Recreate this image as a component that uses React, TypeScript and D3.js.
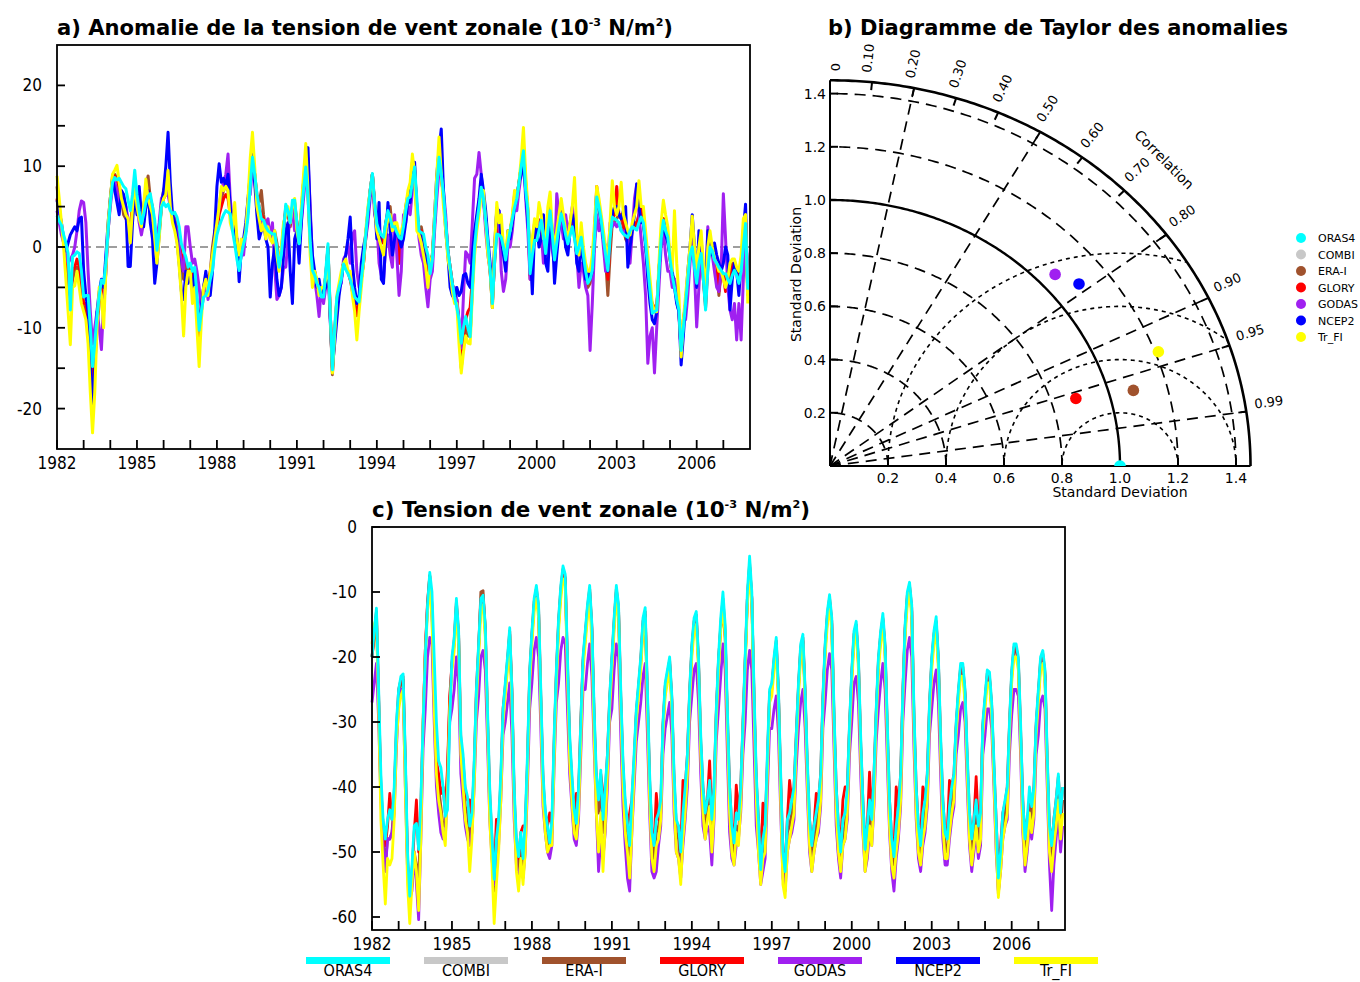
import React from "react";
import * as d3 from "d3";

// ---------------- data ----------------
const SERIES_NAMES = ["ORAS4", "COMBI", "ERA-I", "GLORY", "GODAS", "NCEP2", "Tr_FI"];
const SERIES_COLORS = ["#00ffff", "#c8c8c8", "#a0522d", "#ff0000", "#a020f0", "#0000ff", "#ffff00"];
const FIRST_YEAR = 1982;
const LAST_YEAR = 2008;
const YEAR_LABELS = [1982, 1985, 1988, 1991, 1994, 1997, 2000, 2003, 2006];
const YEAR_TICKS = d3.range(1982, 2008);
const ANOM_LABELS = [-20, -10, 0, 10, 20];
const ANOM_TICKS = [-20, -15, -10, -5, 0, 5, 10, 15, 20];
const TOTAL_LABELS = [0, -10, -20, -30, -40, -50, -60];

// panel a : monthly anomalies Jan 1982 - Dec 2007
const anomORAS4 = [
  3.9, 3.2, 2.7, 1.5, 0.5, -0.8, -7.8, -1.2, -1.0, -0.6, -0.8, -3.0,
  -6.2, -6.0, -6.0, -9.9, -14.8, -12.0, -8.6, -6.0, -4.1, -4.5, -2.0, 2.0,
  5.5, 8.0, 8.6, 8.3, 8.5, 8.0, 7.5, 7.2, 5.8, 4.5, 6.5, 9.5,
  6.5, 4.5, 2.9, 4.0, 5.5, 6.2, 6.6, 5.0, 3.3, -0.4, 2.0, 4.9,
  5.5, 5.0, 5.3, 4.5, 4.1, 4.3, 3.7, 2.5, 0.4, -0.5, -1.2, -2.5,
  -2.0, -3.0, -2.5, -6.0, -10.3, -8.0, -6.2, -6.0, -5.3, -4.0, -2.9, -0.4,
  1.5, 2.5, 3.3, 4.0, 4.5, 4.3, 4.1, 2.0, 0.4, -1.5, -2.9, -1.0,
  0.4, 1.5, 3.7, 7.5, 11.1, 9.0, 6.6, 5.0, 3.5, 3.3, 2.5, 2.0,
  1.8, 1.6, 1.6, 0.0, -2.5, -1.0, 2.0, 5.3, 4.5, 3.0, 5.8, 5.8,
  3.0, 0.4, 4.0, 7.0, 9.9, 6.0, 0.5, -2.9, -3.5, -4.5, -5.0, -6.2,
  -6.2, -3.0, 0.4, -8.0, -15.2, -10.0, -6.2, -5.0, -4.0, -2.1, -2.8, -3.3,
  -4.0, -5.0, -6.2, -6.5, -6.8, -4.0, -1.6, 1.5, 4.5, 7.0, 9.1, 5.5,
  2.9, 2.0, 1.5, 1.2, 3.0, 4.5, 3.5, 2.5, 2.5, 1.8, 1.2, 1.0,
  2.5, 4.5, 6.0, 6.2, 8.0, 9.9, 6.0, 2.0, 1.8, 1.6, 0.0, -1.0,
  -3.3, -1.6, 3.0, 7.5, 11.1, 9.0, 6.6, 3.0, -0.4, -2.5, -4.5, -6.2,
  -7.5, -9.0, -11.9, -10.0, -8.6, -10.0, -11.1, -5.0, 0.0, 2.9, 5.0, 7.4,
  6.0, 3.3, 0.5, -2.9, -7.0, -2.0, 1.6, 1.5, 1.2, 0.0, -1.6, 0.5,
  2.0, 3.5, 4.9, 6.0, 8.0, 10.0, 11.9, 7.0, 4.5, -3.3, -1.0, 0.8,
  0.8, 2.0, 3.3, 1.5, -0.8, 2.0, 4.5, 1.5, -1.6, 0.5, 2.5, 4.1,
  3.0, 1.5, 0.4, 1.5, 2.5, 1.0, -0.8, 0.0, 1.2, -1.0, -3.0, -4.5,
  -4.0, -2.9, 1.0, 6.2, 5.0, 3.3, 1.0, -1.0, -2.9, 1.0, 3.7, 3.5,
  3.3, 3.0, 2.0, 1.6, 1.4, 1.2, 2.0, 2.5, 2.3, 2.1, 3.0, 3.7,
  3.0, 0.5, -2.5, -5.5, -8.2, -8.0, -7.8, -3.0, 1.0, 3.3, 2.0, 1.2,
  -1.5, -3.5, -5.0, -6.5, -7.8, -12.8, -10.0, -7.0, -4.0, -1.0, 0.0, -2.5,
  -4.5, -2.0, -0.8, -4.0, -7.8, -3.0, 0.0, -0.5, -1.6, -2.0, -2.5, -2.9,
  -3.3, -3.3, -4.0, -4.5, -3.5, -2.9, -3.5, -4.5, -3.0, 0.0, 2.9, -5.3,
];
const anomCOMBI: number[] = [];
const anomERAI = [
  7.5, 5.0, 2.5, 0.5, -2.0, -5.0, -6.0, -4.0, -3.0, -2.5, -3.5, -5.0,
  -7.5, -8.0, -10.0, -14.0, -20.0, -15.0, -10.0, -7.0, -5.0, -8.0, -3.0, 2.5,
  6.0, 8.8, 9.0, 8.5, 7.0, 6.0, 4.0, 3.5, 3.0, 1.0, 5.0, 8.0,
  6.0, 4.0, 3.0, 5.0, 7.0, 8.8, 6.0, 5.0, 2.0, -1.0, 2.0, 5.5,
  7.0, 8.0, 9.0, 5.5, 4.0, 3.5, 2.0, 0.0, -2.0, -4.0, -2.0, -3.0,
  -2.5, -5.0, -4.0, -8.0, -12.0, -7.0, -5.0, -3.5, -4.0, -3.0, 0.0, 2.0,
  2.5, 4.5, 6.0, 7.0, 7.5, 7.0, 4.0, 3.0, 3.0, 0.5, -1.5, 0.0,
  0.5, 2.0, 5.0, 9.0, 11.5, 9.0, 6.0, 5.5, 7.0, 4.0, 2.0, 2.0,
  2.0, 1.5, 2.0, 0.5, -2.0, -0.5, 2.5, 4.5, 4.0, 2.5, 4.5, 5.0,
  3.0, 0.5, 4.5, 8.0, 11.0, 7.0, 1.0, -3.0, -3.0, -4.5, -5.0, -5.5,
  -6.0, -3.5, 0.0, -8.5, -15.8, -11.0, -6.5, -5.0, -3.5, -2.0, -2.5, -3.0,
  -4.0, -5.5, -7.0, -8.0, -7.0, -4.0, -2.0, 1.0, 4.0, 6.5, 9.0, 5.0,
  2.5, 1.5, 1.0, 0.5, 3.0, 4.5, 5.0, 2.0, 3.0, 2.5, -2.0, 1.5,
  2.5, 5.0, 6.5, 7.0, 10.5, 10.0, 4.0, 2.0, 2.5, 1.0, -1.0, -3.5,
  -2.0, -1.0, 3.0, 8.0, 12.0, 9.0, 6.0, 3.0, -0.5, -2.5, -4.5, -6.5,
  -6.5, -10.0, -15.0, -12.0, -10.0, -11.0, -11.0, -5.0, 0.5, 3.0, 5.0, 7.0,
  6.0, 3.0, 0.0, -3.0, -7.5, -1.5, 3.0, 2.0, 2.0, -0.5, -1.5, 1.0,
  2.0, 3.5, 6.5, 6.0, 8.0, 10.0, 12.5, 8.0, 4.0, -4.0, -1.0, 1.5,
  1.5, 3.0, 3.5, 2.0, -0.5, 2.5, 5.0, 2.0, -1.0, 1.0, 3.0, 4.5,
  3.0, 1.5, 0.5, 2.0, 3.0, 2.0, -1.0, 0.0, 1.5, -1.0, -3.0, -5.0,
  -4.5, -3.0, 1.0, 6.5, 5.0, 3.0, 1.0, -1.5, -6.0, -1.0, 3.0, 3.0,
  3.5, 4.0, 3.5, 2.5, 1.0, 0.5, 1.5, 2.5, 3.0, 3.0, 4.0, 4.0,
  3.0, 0.5, -3.0, -6.0, -7.5, -8.0, -8.0, -3.0, 1.0, 3.5, 2.0, 1.0,
  -1.5, -3.5, -4.0, -6.5, -8.0, -13.0, -9.0, -7.0, -4.0, -1.0, 0.5, -2.0,
  -4.5, -2.0, 0.0, -4.0, -7.0, -2.0, 0.0, -1.0, -1.5, -2.0, -6.0, -3.0,
  -3.5, -4.0, -4.0, -4.0, -2.0, -2.0, -3.0, -4.0, -2.0, 1.0, 3.5, -6.0,
];
const anomGLORY = [
  6.0, 4.0, 2.0, 1.0, -1.0, -3.0, -6.5, -3.0, -2.5, -1.5, -2.5, -4.5,
  -7.0, -7.0, -9.0, -12.0, -17.0, -13.0, -9.0, -6.0, -5.0, -6.0, -2.0, 2.0,
  5.5, 8.3, 8.8, 8.4, 7.5, 6.5, 5.5, 4.5, 3.0, 2.0, 5.5, 8.5,
  5.5, 4.0, 3.0, 4.5, 6.0, 7.0, 6.0, 4.5, 2.5, -0.5, 2.0, 5.0,
  6.0, 6.5, 7.5, 5.0, 4.0, 3.5, 2.5, 1.0, -1.0, -2.5, -1.5, -2.5,
  -2.5, -4.0, -3.0, -7.0, -11.0, -7.5, -5.5, -4.0, -4.5, -3.5, -1.5, 0.5,
  2.0, 4.0, 5.0, 6.0, 6.5, 6.0, 4.0, 2.5, 2.0, 0.0, -2.0, -0.5,
  0.5, 2.0, 4.5, 8.5, 11.5, 9.0, 6.5, 5.0, 4.0, 3.5, 2.0, 2.0,
  1.5, 1.5, 1.5, 0.0, -2.0, -1.0, 2.0, 5.0, 4.0, 3.0, 5.0, 5.5,
  3.0, 0.5, 4.0, 7.5, 10.5, 6.5, 0.5, -3.0, -3.5, -4.5, -5.0, -6.0,
  -6.0, -3.5, 0.0, -8.0, -15.5, -10.5, -6.5, -5.0, -4.0, -2.0, -2.5, -3.0,
  -4.0, -5.0, -7.0, -8.5, -7.0, -4.0, -2.0, 1.5, 4.5, 7.0, 9.0, 5.5,
  2.5, 1.5, 1.0, 0.5, 3.0, 4.0, 3.0, 2.0, 2.5, 2.0, -2.0, 1.0,
  2.5, 4.5, 6.0, 6.5, 9.0, 9.5, 5.0, 2.0, 2.0, 1.0, -1.0, -3.5,
  -2.5, -1.5, 3.0, 7.5, 11.5, 8.5, 6.5, 3.0, -0.5, -2.5, -4.5, -6.5,
  -6.5, -9.5, -13.0, -11.0, -9.0, -8.0, -7.5, -4.0, 1.0, 3.5, 5.5, 8.0,
  6.0, 3.5, 0.0, -3.0, -7.0, -2.0, 2.0, 2.0, 1.5, -0.5, -1.5, 0.5,
  2.0, 3.5, 5.5, 6.0, 8.0, 10.0, 12.0, 7.5, 4.5, -3.5, -1.0, 1.0,
  1.5, 2.5, 3.5, 1.5, -1.0, 2.0, 4.5, 1.5, -1.5, 1.0, 3.0, 4.5,
  3.0, 1.5, 0.5, 2.0, 3.0, 1.5, -1.0, 0.0, 1.0, -1.0, -3.0, -4.5,
  -4.0, -3.0, 1.0, 7.5, 5.0, 3.5, 1.0, -1.0, -4.0, 0.5, 3.5, 4.0,
  7.5, 4.0, 4.0, 3.0, 1.5, 1.0, 1.5, 2.5, 3.0, 2.5, 4.0, 5.0,
  3.5, 0.5, -3.0, -6.0, -7.0, -7.5, -7.5, -3.0, 1.0, 3.5, 2.0, 1.5,
  -1.5, -3.5, -4.5, -6.5, -8.0, -13.0, -9.5, -7.0, -4.0, -1.0, 0.5, -2.0,
  -4.5, -2.0, -0.5, -4.0, -7.5, -2.5, 0.0, -0.5, -1.5, -2.0, -5.5, -3.0,
  -3.5, -5.5, -4.0, -4.0, -2.5, -2.0, -3.0, -4.0, -2.0, 1.0, 3.0, -5.0,
];
const anomGODAS = [
  4.5, 3.0, 1.5, 0.5, -1.0, -2.0, -1.5, -1.0, 0.0, 2.0, 4.5, 5.7,
  5.5, 3.0, -3.0, -8.0, -12.0, -10.0, -8.0, -10.0, -12.7, -7.0, -3.0, 2.0,
  5.0, 7.5, 8.0, 7.0, 5.5, 5.0, 6.0, 5.0, 3.5, 2.0, 4.0, 6.0,
  5.0, 3.0, 1.5, 3.0, 5.0, 6.0, 4.0, 2.5, 1.5, 1.0, 3.0, 6.0,
  6.5, 7.0, 6.5, 5.0, 4.0, 3.0, 2.0, 0.0, -2.0, -3.0, 2.5, 2.5,
  0.0, -2.0, -1.5, -3.0, -5.0, -8.0, -6.0, -4.0, -6.5, -5.0, -2.0, 1.0,
  3.0, 5.0, 7.0, 8.0, 9.0, 11.5, 6.0, 3.0, 3.0, 1.0, -2.5, -1.0,
  -1.0, 2.0, 6.0, 6.5, 10.0, 8.0, 6.0, 4.0, 3.0, 2.0, 3.0, 3.5,
  1.0, 3.0, -2.5, -6.5, -6.0, -5.0, -2.5, -2.5, 1.0, 4.0, 4.5, 2.0,
  2.5, 0.0, 3.0, 6.0, 9.0, 11.0, 5.0, -2.0, -4.0, -6.0, -8.6, -5.0,
  -7.0, -5.0, -2.0, -8.0, -14.8, -11.0, -7.0, -5.0, -4.5, -1.5, -1.0, 0.5,
  -2.0, 1.5, 2.0, -3.0, -5.0, -4.0, -1.0, 1.0, 3.0, 6.0, 8.5, 4.0,
  3.0, -2.0, -3.5, -4.0, 0.0, 1.5, -1.0, -2.5, 4.0, -1.0, -6.0, -3.0,
  4.0, 3.0, 5.0, 4.0, 7.0, 8.5, 5.0, 1.0, -1.0, -2.0, -5.0, -7.4,
  -4.0, -3.0, 2.0, 6.0, 9.5, 9.0, 7.0, 4.0, -1.0, -3.0, -6.0, -5.0,
  -6.5, -9.0, -12.5, -6.0, -0.6, -1.0, -2.0, 3.0, 8.5, 9.0, 11.7, 9.0,
  6.0, 2.0, -1.0, -3.0, -5.0, -1.0, 4.7, 4.5, -3.0, -5.5, -4.0, 0.0,
  0.0, 2.0, 5.0, 4.5, 7.0, 9.0, 10.5, 6.0, 2.0, -4.0, 0.5, 3.0,
  2.0, 3.0, 2.0, -2.0, -1.0, 3.0, 2.0, -0.5, -2.0, 6.6, 4.0, 3.0,
  1.0, 4.0, 2.0, 3.0, 5.0, 3.0, -1.0, -5.0, -2.0, -3.0, -5.0, -6.0,
  -12.8, -7.0, 0.0, 4.0, 2.0, 3.0, 0.0, -3.0, -2.0, 3.0, 2.5, 3.0,
  2.5, 3.0, 2.0, 2.0, 1.5, 1.0, -2.0, 2.0, 6.0, 7.8, 4.0, 1.0,
  -2.0, -6.0, -14.4, -11.0, -10.0, -15.6, -10.0, -5.0, 0.0, 2.0, -1.0, -3.0,
  -3.0, -5.0, -4.0, -6.0, -8.0, -13.0, -9.0, -9.0, -6.0, -2.0, 1.0, -3.0,
  -9.9, -5.0, 0.0, -3.0, -6.0, 2.5, 0.0, -1.0, -3.0, -5.0, -5.5, -3.0,
  6.6, 1.0, -5.0, -7.8, -9.0, -7.0, -11.5, -7.0, -11.5, -4.0, 2.0, -4.0,
];
const anomNCEP2 = [
  5.8, 4.5, 3.0, 1.0, -0.5, 0.5, 1.5, 2.0, 2.5, 2.0, 3.5, 3.7,
  -3.0, -6.0, -8.0, -14.0, -20.0, -15.0, -8.0, -5.5, -4.0, -5.0, -1.0, 3.0,
  6.0, 8.5, 7.0, 5.5, 4.0, 7.0, 6.5, 5.0, -2.4, -2.4, 3.0, 7.0,
  4.0, 7.5, 4.0, 2.5, 5.0, 7.0, 3.0, 1.0, -4.5, -2.0, 1.5, 5.0,
  7.0, 10.0, 14.2, 8.0, 4.0, 3.0, 1.0, -2.0, -5.5, -6.5, -3.0, -4.5,
  -3.5, -5.0, -3.0, -7.0, -9.5, -7.5, -5.0, -3.0, -5.5, -6.0, -3.0, 2.0,
  7.5, 10.3, 8.0, 8.5, 7.5, 9.0, 5.0, 3.0, 1.5, 1.0, -4.3, 0.0,
  1.0, 3.0, 6.0, 9.0, 11.5, 8.0, 4.0, 1.0, 2.0, 3.0, 1.0, 0.0,
  -6.2, -2.0, 0.0, -4.0, -6.0, -5.0, -1.0, 2.0, 3.0, -3.0, -7.0, 1.0,
  2.0, -2.0, 3.0, 8.0, 10.0, 12.3, 4.0, -1.0, -3.0, -5.0, -4.0, -6.0,
  -5.5, -5.0, -2.0, -9.0, -15.0, -12.0, -9.0, -6.0, -4.0, -2.0, -1.0, 1.0,
  3.7, -2.0, -5.0, -7.0, -6.0, -2.0, 0.0, 1.5, 4.0, 7.0, 9.0, 5.0,
  1.0, 5.5, -4.0, -4.5, 1.0, 5.5, 2.0, -1.0, 1.0, 2.5, 1.0, 0.0,
  1.0, 3.0, 6.0, 5.5, 9.0, 10.5, 4.0, 2.0, 1.0, -0.5, -1.5, -2.0,
  -2.0, -1.0, 4.0, 9.0, 12.0, 14.6, 7.0, 2.0, -1.0, -5.0, -6.0, -6.5,
  -5.0, -6.0, -5.5, -3.5, -3.3, -4.5, -5.0, -1.0, 2.0, 4.0, 6.0, 9.0,
  7.0, 4.5, 1.0, -2.0, -5.0, 0.0, 4.8, 4.5, 1.0, -1.0, -3.0, 2.0,
  1.0, 3.0, 5.0, 6.0, 8.0, 9.0, 10.5, 7.0, 3.0, 0.0, -5.8, 2.0,
  2.5, 0.0, 1.0, 4.0, -2.0, -3.0, 3.0, 2.0, -4.5, -1.0, 2.0, 5.0,
  3.0, 0.0, -1.0, 2.0, 4.0, 3.0, -2.0, -3.0, 1.0, -2.0, -4.0, -3.0,
  -4.0, -3.0, 2.0, 7.0, 5.0, 3.0, 1.0, 0.0, -3.0, 2.0, 4.0, 5.0,
  5.0, 4.0, 3.5, 4.5, 5.0, -2.5, 0.0, 2.0, 4.0, 7.8, 5.0, 3.0,
  3.0, 0.0, -4.0, -7.0, -9.0, -9.5, -8.0, -3.0, 1.0, 3.0, 1.5, 0.5,
  -1.0, -3.0, -5.0, -7.0, -8.0, -14.6, -11.0, -7.0, -3.0, 0.0, 4.0, 0.0,
  -5.0, 2.0, 1.0, -3.0, -6.0, 2.0, 0.0, -1.0, 0.5, -1.0, -2.0, -3.0,
  -2.0, 0.0, -1.0, -7.8, -4.0, -2.0, -3.0, -6.0, -2.0, 2.0, 5.3, -6.0,
];
const anomTrFI = [
  8.8, 6.0, 3.0, 0.0, -4.0, -8.0, -12.1, -5.0, -4.8, -3.0, -5.0, -7.0,
  -8.0, -9.0, -12.0, -18.0, -23.0, -18.0, -10.0, -5.0, -6.0, -10.0, -3.0, 3.0,
  6.0, 9.0, 9.5, 10.1, 8.0, 6.0, 5.0, 4.0, 3.5, 0.5, 5.0, 8.0,
  5.0, 3.5, 2.5, 5.0, 8.4, 6.0, 5.0, 4.0, 1.0, -2.0, 1.0, 5.0,
  6.0, 6.5, 9.5, 5.0, 3.0, 2.0, 0.5, -2.5, -6.0, -11.0, -5.0, -3.0,
  -3.0, -7.0, -5.0, -10.0, -14.8, -9.0, -5.0, -4.0, -6.0, -3.0, -1.0, 1.0,
  3.0, 5.0, 7.5, 7.0, 7.5, 7.0, 3.0, 2.0, 5.5, 1.0, -1.0, 1.0,
  0.5, 2.0, 6.0, 11.0, 14.2, 10.0, 5.0, 3.5, 2.0, 3.0, 1.0, 2.5,
  1.0, 0.5, 2.0, -1.0, -3.0, 0.0, 3.0, 4.0, 5.0, 3.0, 5.0, 6.0,
  2.0, 0.5, 5.0, 9.0, 12.8, 7.0, -1.0, -5.0, -3.0, -4.0, -6.0, -5.0,
  -5.0, -4.0, -1.0, -8.0, -15.6, -11.0, -6.0, -4.5, -3.0, -2.0, -1.5, -3.0,
  -3.0, -6.0, -8.0, -11.5, -8.0, -5.0, -2.0, 2.0, 5.0, 7.0, 9.0, 5.0,
  2.0, 1.0, 0.0, -1.0, 2.0, 3.5, 4.0, 2.0, 3.0, 3.0, 1.5, 2.0,
  3.0, 5.0, 7.0, 8.0, 11.5, 9.0, 2.0, 1.5, 0.5, -1.0, -2.5, -5.0,
  -2.0, -1.0, 4.0, 9.0, 13.6, 9.0, 5.0, 2.0, -1.5, -3.0, -5.5, -7.0,
  -7.0, -12.0, -15.6, -13.0, -11.0, -11.9, -12.0, -6.0, -1.0, 2.0, 4.0, 6.5,
  7.0, 3.0, -1.0, -3.0, -7.5, 0.0, 5.5, 3.0, 4.0, 0.0, -1.0, 2.0,
  2.0, 4.0, 7.0, 6.0, 8.0, 11.0, 14.8, 9.0, 5.0, -1.0, 1.0, 3.5,
  2.5, 5.5, 4.0, 1.0, 1.0, 5.0, 6.8, 2.0, 0.0, 2.0, 4.0, 6.0,
  4.0, 2.0, 1.0, 3.0, 5.0, 8.6, 2.0, -1.0, 3.0, 0.0, -2.0, -3.0,
  -3.0, -1.0, 3.0, 7.5, 6.0, 4.0, 2.0, 0.0, -2.0, 3.0, 8.2, 5.0,
  4.0, 5.0, 8.0, 4.0, 3.0, 2.0, 1.5, 3.0, 4.0, 5.0, 8.2, 5.0,
  5.0, 2.0, -1.0, -4.0, -7.0, -8.0, -8.0, -2.0, 3.0, 5.8, 4.0, 2.5,
  -1.0, -3.0, 4.5, -2.0, -6.0, -13.6, -9.0, -6.0, -3.0, 0.0, 3.8, 0.0,
  -3.0, 0.0, 2.0, -2.0, -6.0, 0.0, 2.0, 0.0, -1.5, -2.0, -3.0, -3.0,
  -4.0, -5.0, -4.0, -2.0, -1.5, -1.5, -2.5, -3.0, -1.0, 3.5, 4.0, -7.0,
];

// panel c : monthly totals Jan 1982 - Dec 2007
const totORAS4 = [
  -20, -16, -12.5, -25, -38, -45, -48, -45, -43.5, -45, -40, -30,
  -25, -23, -22.6, -35, -50, -56.8, -52, -46, -45.6, -49.6, -42, -30,
  -20, -12, -7, -10, -20, -30, -36, -37, -40, -44.5, -43.5, -30,
  -20, -17, -11, -16, -32, -35, -40, -41.5, -46, -44, -36, -25,
  -18, -11, -10.5, -15, -28, -40, -47.6, -54.2, -48, -45, -38, -28,
  -24, -20, -15.5, -25, -40, -48, -50.7, -47, -51, -45, -35, -22,
  -16, -11, -9, -12, -25, -38, -43.5, -46, -48.6, -45, -32, -22,
  -14, -9, -6, -7.3, -20, -32, -38, -43.5, -45.6, -40, -30, -20,
  -16, -12, -9, -15, -28, -38, -42, -37.4, -45, -40, -35, -26,
  -20, -14, -9, -12, -25, -36, -42, -45.6, -49, -41.5, -35, -28,
  -24, -20, -14, -12.4, -25, -38, -47, -49, -45, -44, -42, -30,
  -24, -22, -20, -26, -38, -45, -46, -50, -44, -40, -35, -25,
  -18, -14, -13, -20, -32, -40, -44, -42, -39, -45, -40, -28,
  -20, -14, -10, -15, -28, -40, -46, -48.6, -44, -45, -40, -30,
  -20, -10, -4.5, -10, -25, -38, -45, -52.7, -48, -46, -35, -25,
  -24, -20, -17, -25, -38, -50, -53, -45, -44, -42, -40, -32,
  -24, -18, -16.5, -25, -36, -45, -49, -46, -44, -42, -38, -26,
  -18, -13, -10.4, -14, -28, -40, -46, -50, -45, -44, -40, -30,
  -22, -16, -14.5, -20, -32, -42, -49.6, -46, -42, -45, -38, -28,
  -20, -16, -13.3, -18, -30, -42, -48, -50.7, -46, -43, -38, -25,
  -15, -10, -8.5, -12, -28, -40, -46, -49, -44, -42, -38, -27,
  -20, -16, -13.8, -20, -32, -42, -47, -48, -43, -40, -38, -30,
  -25, -21, -21, -25, -35, -44, -48, -45, -42, -46, -44, -30,
  -26, -22, -22.3, -27, -36, -45, -54, -50, -44, -42, -40, -30,
  -22, -18, -18, -20, -30, -42, -48, -45, -40, -43, -40, -30,
  -25, -20, -19, -22, -35, -46, -49, -45, -42, -38, -44, -40,
];
const totCOMBI: number[] = [];
const totERAI = [
  -20, -17, -14, -27, -41, -48, -52, -48, -48, -47, -42, -32,
  -26, -24, -23.5, -37, -52, -58, -55, -50, -52, -54, -45, -31,
  -19, -12, -7.5, -13, -27, -37, -40, -43, -46, -46, -38, -27,
  -21, -18, -12, -17, -34, -38, -43, -44, -48, -46, -38, -26,
  -19, -10, -9.8, -16, -30, -43, -50, -56, -51, -47, -40, -29,
  -25, -21, -16.5, -26, -42, -50, -54, -48, -53, -47, -37, -23,
  -17, -12, -10, -13, -27, -40, -46, -48, -50, -47, -34, -23,
  -15, -10, -7, -8, -22, -34, -40, -45, -47, -42, -31, -21,
  -17, -13, -10, -16, -30, -40, -44, -40, -47, -43, -36, -27,
  -21, -15, -10, -13, -27, -38, -44, -47, -51, -44, -37, -29,
  -25, -21, -15, -13.5, -27, -40, -49, -51, -47, -46, -44, -31,
  -25, -23, -21, -27, -40, -47, -48, -52, -46, -42, -36, -26,
  -19, -15, -14, -21, -34, -42, -46, -44, -41, -47, -42, -29,
  -21, -15, -11, -16, -30, -42, -48, -50, -46, -47, -42, -31,
  -21, -11, -5.5, -11, -27, -40, -47, -54, -50, -48, -37, -26,
  -25, -21, -18, -26, -40, -52, -55, -47, -46, -44, -42, -33,
  -25, -19, -17.5, -26, -38, -47, -51, -48, -46, -44, -40, -27,
  -19, -14, -11.4, -15, -30, -42, -50.5, -52, -47, -46, -42, -31,
  -23, -17, -15.5, -21, -34, -44, -51, -48, -44, -47, -40, -29,
  -21, -17, -14.3, -19, -32, -44, -50, -52, -48, -45, -40, -26,
  -16, -11, -9.5, -13, -30, -42, -48, -52, -46, -44, -40, -28,
  -21, -17, -14.8, -21, -34, -44, -49, -50, -45, -42, -40, -31,
  -26, -22, -22, -26, -37, -46, -50, -47, -44, -48, -46, -31,
  -27, -23, -23.3, -28, -38, -47, -56.5, -52, -46, -44, -42, -31,
  -23, -19, -19, -21, -32, -44, -50, -47, -42, -45, -42, -31,
  -26, -21, -20, -23, -37, -48, -51, -47, -44, -40, -46, -42,
];
const totGLORY = [
  -20, -16.5, -13, -26, -40, -46, -49, -46, -41, -45, -41, -31,
  -25, -23.5, -23, -36, -51, -57, -53, -47, -42, -50, -43, -30,
  -19, -11.5, -7.5, -12, -26, -36, -38, -41, -40, -44, -37, -26,
  -21, -17.5, -11.5, -16.5, -33, -36, -41, -42, -42, -45, -37, -25,
  -18.5, -11, -10.5, -15.5, -29, -41, -48, -54, -45, -46, -39, -28,
  -24.5, -20.5, -16, -25, -41, -49, -51, -47, -46, -46, -36, -22.5,
  -16.5, -11.5, -9.5, -12.5, -26, -39, -44, -46, -44, -46, -33, -22.5,
  -14.5, -9.5, -6.5, -7.8, -21, -33, -39, -44, -41, -41, -30, -20.5,
  -16.5, -12.5, -9.5, -15.5, -29, -39, -42, -38, -41, -41, -35, -26.5,
  -20.5, -14.5, -9.5, -12.5, -26, -37, -43, -46, -44, -42, -36, -28.5,
  -24.5, -20.5, -14.5, -13, -26, -39, -47, -49, -41, -45, -43, -30.5,
  -24.5, -22.5, -20.5, -26.5, -39, -46, -46, -50, -39, -40, -35, -25.5,
  -18.5, -14.5, -13.5, -20.5, -33, -40, -44, -42, -36, -45, -40, -28.5,
  -20.5, -15.5, -13, -17, -29, -40, -46, -48, -39.7, -44, -40, -30.5,
  -20.5, -11, -6, -11, -26, -39, -45, -52, -42.5, -46, -36, -25.5,
  -24.5, -20.5, -17.5, -25.5, -39, -50, -52, -45, -39, -42, -40, -32,
  -24.5, -18.5, -17, -25.5, -37, -45, -49, -46, -41, -42, -38, -26.5,
  -18.5, -13.5, -11, -14.5, -29, -40, -46, -49, -42, -40, -40, -30.5,
  -22.5, -16.5, -15, -20.5, -33, -42, -49, -46, -37.7, -45, -38, -28.5,
  -20.5, -16.5, -14, -18.5, -31, -42, -48, -50, -40, -43, -38, -25.5,
  -15.5, -10.5, -9, -12.5, -29, -40, -46, -48, -40, -42, -38, -27.5,
  -20.5, -16.5, -14.5, -20.5, -33, -42, -47, -47, -39, -40, -38, -30.5,
  -25.5, -21.5, -21.5, -25.5, -36, -44, -48, -45, -38.4, -46, -44, -30.5,
  -26.5, -22.5, -23, -27.5, -37, -45, -53, -49, -44, -42.5, -40, -30.5,
  -22.5, -18.5, -18.5, -20.5, -31, -42, -48, -45, -42.5, -43, -40, -30.5,
  -25.5, -20.5, -19.5, -22.5, -36, -46, -49, -45, -42, -38.4, -44, -40,
];
const totGODAS = [
  -27, -24, -21, -30, -42, -49, -53, -48, -48, -47, -44, -34,
  -27, -25, -25, -40, -53, -57, -56, -50, -55, -60.4, -48, -34,
  -28, -20, -17, -18, -30, -40, -44, -47, -48, -48, -40, -30,
  -28, -25, -20, -24, -38, -42, -46, -48, -49, -47, -40, -30,
  -26, -20, -19, -22, -33, -45, -51, -55, -52, -49, -42, -32,
  -30, -27, -24, -32, -45, -52, -54, -52, -54, -50, -40, -28,
  -24, -19, -17, -20, -31, -43, -47, -50, -51, -49, -37, -27,
  -24, -19, -17, -18, -28, -38, -43, -48, -49, -45, -35, -25,
  -25, -21, -18, -23, -34, -44, -53, -48, -51, -47, -40, -30,
  -28, -22, -18, -20, -32, -43, -49, -54, -56, -47, -40, -33,
  -30, -27, -23, -21, -32, -44, -53, -54, -53, -49, -46, -35,
  -31, -29, -27, -32, -44, -50, -51, -54, -49, -45, -40, -30,
  -26, -22, -21, -27, -38, -46, -48, -46, -47, -52, -45, -33,
  -28, -23, -18, -22, -35, -47, -51, -52, -49, -48, -44, -35,
  -30, -22, -19, -22, -34, -46, -50, -55, -53, -51, -41, -31,
  -31, -28, -26, -32, -44, -54, -56, -50, -48, -47, -45, -37,
  -31, -27, -25, -31, -41, -50, -53, -50, -48, -47, -43, -31,
  -27, -22, -19.5, -22, -34, -46, -51, -54, -49, -48, -45, -35,
  -30, -24, -23, -27, -38, -47, -53, -51, -47, -49, -43, -33,
  -28, -24, -21, -25, -36, -47, -53, -56, -51, -48, -43, -30,
  -24, -19, -17, -20, -34, -45, -51, -53, -49, -47, -43, -32,
  -28, -24, -22, -27, -38, -48, -52, -52, -48, -45, -43, -35,
  -32, -28, -27, -30, -40, -49, -53, -50, -47, -51, -49, -35,
  -32, -28, -28, -31, -40, -50, -56, -53, -48, -46, -45, -35,
  -29, -25, -25, -26, -35, -47, -53, -50, -46, -48, -45, -35,
  -32, -27, -26, -28, -40, -52, -59, -52, -48, -44, -50, -46,
];
const totNCEP2: number[] = [];
const totTrFI = [
  -18, -15, -14, -28, -45, -52, -58, -51, -52, -51, -45, -33,
  -28, -26, -25, -40, -55, -61, -55, -50, -53, -59, -48, -30,
  -20, -13, -9, -14, -28, -38, -42, -44, -47, -49, -40, -28,
  -22, -19, -13, -18, -35, -40, -45, -47, -53, -48, -40, -27,
  -20, -13, -12, -17, -30, -45, -52, -61, -55, -50, -42, -30,
  -26, -22, -17, -27, -43, -53, -56, -51, -55, -50, -38, -24,
  -18, -13, -11, -14, -28, -42, -47, -50, -49, -49, -36, -24,
  -16, -11, -8, -9, -23, -36, -42, -47, -48, -44, -33, -22,
  -18, -14, -11, -18, -32, -44, -50, -44, -53, -46, -38, -28,
  -22, -16, -11, -14, -28, -40, -47, -50, -54, -47, -38, -30,
  -26, -22, -16, -14, -28, -42, -51, -53, -49, -48, -45, -32,
  -26, -24, -22, -28, -42, -50, -51, -55, -48, -44, -38, -27,
  -20, -16, -15, -22, -35, -44, -48, -45, -43, -50, -44, -30,
  -22, -16, -12, -17, -31, -44, -50, -52, -47, -49, -43, -32,
  -22, -12, -7, -12, -28, -42, -50, -55, -51, -50, -38, -27,
  -26, -22, -19, -27, -42, -55, -57, -50, -48, -46, -44, -34,
  -26, -20, -18, -27, -39, -49, -53, -50, -48, -46, -42, -28,
  -20, -15, -12, -16, -31, -44, -50, -53, -49, -48, -44, -32,
  -24, -18, -16, -22, -35, -46, -53, -50, -46, -49, -42, -30,
  -22, -18, -15, -20, -33, -46, -52, -54, -50, -47, -42, -27,
  -17, -12, -10, -14, -31, -44, -50, -52, -48, -46, -42, -29,
  -22, -18, -16, -22, -35, -46, -51, -51, -47, -44, -42, -32,
  -27, -23, -23, -27, -38, -48, -52, -49, -46, -50, -48, -32,
  -28, -24, -24, -29, -39, -49, -57, -53, -48, -46, -44, -32,
  -24, -20, -20, -22, -33, -46, -52, -49, -44, -47, -44, -32,
  -27, -22, -21, -24, -38, -50, -53, -49, -46, -42, -48, -44,
];

const ANOM_DATA = [anomORAS4, anomCOMBI, anomERAI, anomGLORY, anomGODAS, anomNCEP2, anomTrFI];
const TOTAL_DATA = [totORAS4, totCOMBI, totERAI, totGLORY, totGODAS, totNCEP2, totTrFI];
const DRAW_ORDER = [1, 2, 3, 4, 5, 6, 0];

// panel b : Taylor statistics (normalised std, correlation)
const TAYLOR_STD = [1.0, NaN, 1.084, 0.885, 1.059, 1.098, 1.211];
const TAYLOR_CORR = [1.0, NaN, 0.965, 0.958, 0.733, 0.782, 0.935];
const CORR_LABEL_VALUES = [0, 0.1, 0.2, 0.3, 0.4, 0.5, 0.6, 0.7, 0.8, 0.9, 0.95, 0.99];
const CORR_LABEL_TEXT = ["0", "0.10", "0.20", "0.30", "0.40", "0.50", "0.60", "0.70", "0.80", "0.90", "0.95", "0.99"];
const STD_TICKS = [0.2, 0.4, 0.6, 0.8, 1.0, 1.2, 1.4];
const STD_ARCS = [0.2, 0.4, 0.6, 0.8, 1.2, 1.4];
const CORR_RAYS = [0.2, 0.5, 0.8, 0.9, 0.95, 0.99];
const RMS_CIRCLES = [0.2, 0.4, 0.6, 0.8];
const STD_MAX = 1.45;

const TICK_FONT = "'DejaVu Sans Condensed','DejaVu Sans',sans-serif";
const TAYLOR_FONT = "'DejaVu Sans',sans-serif";

function Title({ x, y, len, label }: { x: number; y: number; len: number; label: string }) {
  return (
    <text x={x} y={y} fontFamily={TICK_FONT} fontWeight="bold" fontSize={21} textLength={len} lengthAdjust="spacingAndGlyphs">
      {label} (10
      <tspan fontSize={11} dy={-9}>-3</tspan>
      <tspan dy={9}> N/m</tspan>
      <tspan fontSize={11} dy={-9}>2</tspan>
      <tspan dy={9}>)</tspan>
    </text>
  );
}

function TimePanel(props: {
  x0: number; x1: number; y0: number; y1: number; yDomain: [number, number];
  data: number[][]; yLabels: number[]; yTicks: number[]; zeroLine: boolean; labelY: number; lw: number;
}) {
  const { x0, x1, y0, y1, yDomain, data, yLabels, yTicks, zeroLine, labelY, lw } = props;
  const sx = d3.scaleLinear().domain([FIRST_YEAR, LAST_YEAR]).range([x0, x1]);
  const sy = d3.scaleLinear().domain(yDomain).range([y1, y0]);
  const line = d3.line<number>().x((_, i) => sx(FIRST_YEAR + i / 12)).y((d) => sy(d));
  return (
    <g>
      {zeroLine && (
        <line x1={x0} x2={x1} y1={sy(0)} y2={sy(0)} stroke="#7f7f7f" strokeWidth={1.5} strokeDasharray="8,5" />
      )}
      {DRAW_ORDER.map((k) =>
        data[k].length ? (
          <path key={k} d={line(data[k]) || ""} fill="none" stroke={SERIES_COLORS[k]} strokeWidth={lw} strokeLinejoin="round" />
        ) : null
      )}
      <rect x={x0} y={y0} width={x1 - x0} height={y1 - y0} fill="none" stroke="#000" strokeWidth={1.8} />
      {YEAR_TICKS.map((yr) => (
        <line key={yr} x1={sx(yr)} x2={sx(yr)} y1={y1} y2={y1 - 9} stroke="#000" strokeWidth={1.8} />
      ))}
      {yTicks.map((v) => (
        <line key={v} x1={x0} x2={x0 + 8} y1={sy(v)} y2={sy(v)} stroke="#000" strokeWidth={1.8} />
      ))}
      {YEAR_LABELS.map((yr) => (
        <text key={yr} x={sx(yr)} y={labelY} textAnchor="middle" fontFamily={TICK_FONT} fontSize={17}>{yr}</text>
      ))}
      {yLabels.map((v) => (
        <text key={v} x={x0 - 15} y={sy(v) + 6} textAnchor="end" fontFamily={TICK_FONT} fontSize={17}>{v}</text>
      ))}
    </g>
  );
}

function Taylor() {
  const ox = 830, oy = 466;
  const tx = d3.scaleLinear().domain([0, STD_MAX]).range([ox, ox + STD_MAX * 290]);
  const ty = d3.scaleLinear().domain([0, STD_MAX]).range([oy, oy - STD_MAX * 266]);
  const pt = (x: number, y: number): [number, number] => [tx(x), ty(y)];
  const polar = (r: number, c: number): [number, number] => pt(r * c, r * Math.sqrt(Math.max(0, 1 - c * c)));
  const line = d3.line<[number, number]>();
  const arc = (r: number) => line(d3.range(0, 181).map((k) => pt(r * Math.cos((k * Math.PI) / 360), r * Math.sin((k * Math.PI) / 360)))) || "";
  const rms = (R: number) => line(d3.range(0, 361).map((k) => pt(1 + R * Math.cos((k * Math.PI) / 360), R * Math.sin((k * Math.PI) / 360)))) || "";
  const clipD = (line(d3.range(0, 181).map((k) => pt(STD_MAX * Math.cos((k * Math.PI) / 360), STD_MAX * Math.sin((k * Math.PI) / 360)))) || "") + `L${ox},${oy}Z`;
  const dirOf = (c: number) => {
    const [px, py] = polar(STD_MAX, c);
    const th = Math.atan2(oy - py, px - ox);
    return { px, py, th };
  };
  const clipPts = `M${ox - 1},${oy}L${ox - 1},${ty(STD_MAX) - 2}L${tx(STD_MAX) + 2},${ty(STD_MAX) - 2}L${tx(STD_MAX) + 2},${oy}Z`;
  return (
    <g>
      <defs>
        <clipPath id="tdClip"><path d={clipD} /></clipPath>
        <clipPath id="tdPts"><path d={clipPts} /></clipPath>
      </defs>
      <g clipPath="url(#tdClip)">
        {RMS_CIRCLES.map((R) => (
          <path key={R} d={rms(R)} fill="none" stroke="#000" strokeWidth={1.6} strokeDasharray="4,4" />
        ))}
      </g>
      {STD_ARCS.map((r) => (
        <path key={r} d={arc(r)} fill="none" stroke="#000" strokeWidth={1.7} strokeDasharray="11,7" />
      ))}
      {CORR_RAYS.map((c) => {
        const [x2, y2] = polar(STD_MAX, c);
        return <line key={c} x1={ox} y1={oy} x2={x2} y2={y2} stroke="#000" strokeWidth={1.7} strokeDasharray="11,7" />;
      })}
      <path d={arc(1.0)} fill="none" stroke="#000" strokeWidth={2.4} />
      <path d={arc(STD_MAX)} fill="none" stroke="#000" strokeWidth={2.6} />
      <line x1={ox} y1={oy} x2={ox} y2={ty(STD_MAX)} stroke="#000" strokeWidth={2} />
      <line x1={ox} y1={oy} x2={tx(STD_MAX)} y2={oy} stroke="#000" strokeWidth={2} />
      {STD_TICKS.map((v) => (
        <g key={v}>
          <line x1={ox} x2={ox + 8} y1={ty(v)} y2={ty(v)} stroke="#000" strokeWidth={2} />
          <line x1={tx(v)} x2={tx(v)} y1={oy} y2={oy - 8} stroke="#000" strokeWidth={2} />
          <text x={ox - 4} y={ty(v) + 5} textAnchor="end" fontFamily={TAYLOR_FONT} fontSize={14}>{v.toFixed(1)}</text>
          <text x={tx(v)} y={oy + 17} textAnchor="middle" fontFamily={TAYLOR_FONT} fontSize={14}>{v.toFixed(1)}</text>
        </g>
      ))}
      {CORR_LABEL_VALUES.map((c, i) => {
        const { px, py, th } = dirOf(c);
        const ux = Math.cos(th), uy = -Math.sin(th);
        const lx = px + ux * 9, ly = py + uy * 9;
        return (
          <g key={c}>
            {c > 0 && <line x1={px} y1={py} x2={px - ux * 8} y2={py - uy * 8} stroke="#000" strokeWidth={2} />}
            <text x={lx} y={ly} dy={c === 0 ? "0.8em" : "-0.15em"} fontFamily={TAYLOR_FONT} fontSize={13}
              transform={`rotate(${(-th * 180) / Math.PI},${lx},${ly})`}>{CORR_LABEL_TEXT[i]}</text>
          </g>
        );
      })}
      {(() => {
        const [cx, cy] = polar(1.63, Math.SQRT1_2);
        return (
          <text x={cx} y={cy} textAnchor="middle" dominantBaseline="central" fontFamily={TAYLOR_FONT} fontSize={14}
            transform={`rotate(45,${cx},${cy})`}>Correlation</text>
        );
      })()}
      <text x={tx(1.0)} y={oy + 31} textAnchor="middle" fontFamily={TAYLOR_FONT} fontSize={14}>Standard Deviation</text>
      <text x={796} y={ty(0.72)} textAnchor="middle" dominantBaseline="central" fontFamily={TAYLOR_FONT} fontSize={14}
        transform={`rotate(-90,796,${ty(0.72)})`}>Standard Deviation</text>
      <g clipPath="url(#tdPts)">
        {[1, 2, 3, 4, 5, 6, 0].map((k) => {
          if (!isFinite(TAYLOR_STD[k])) return null;
          const [x, y] = polar(TAYLOR_STD[k], TAYLOR_CORR[k]);
          return <circle key={k} cx={x} cy={y} r={5.8} fill={SERIES_COLORS[k]} />;
        })}
      </g>
      {SERIES_NAMES.map((n, k) => (
        <g key={n}>
          <circle cx={1301} cy={238 + k * 16.5} r={5} fill={SERIES_COLORS[k]} />
          <text x={1318} y={238 + k * 16.5 + 4} fontFamily={TAYLOR_FONT} fontSize={11}>{n}</text>
        </g>
      ))}
    </g>
  );
}

export default function App() {
  return (
    <svg width={1360} height={982} viewBox="0 0 1360 982" style={{ position: "absolute", left: 0, top: 0, background: "#fff" }}>
      <rect x={0} y={0} width={1360} height={982} fill="#fff" />
      <Title x={57} y={35} len={616} label="a) Anomalie de la tension de vent zonale" />
      <Title x={372} y={517} len={438} label="c) Tension de vent zonale" />
      <text x={828} y={35} fontFamily={TICK_FONT} fontWeight="bold" fontSize={21} textLength={460} lengthAdjust="spacingAndGlyphs">
        b) Diagramme de Taylor des anomalies
      </text>
      <TimePanel x0={57} x1={750} y0={45} y1={449} yDomain={[-25, 25]} data={ANOM_DATA}
        yLabels={ANOM_LABELS} yTicks={ANOM_TICKS} zeroLine={true} labelY={469} lw={3} />
      <TimePanel x0={372} x1={1065} y0={527} y1={930} yDomain={[-62, 0]} data={TOTAL_DATA}
        yLabels={TOTAL_LABELS} yTicks={TOTAL_LABELS} zeroLine={false} labelY={950} lw={2.8} />
      <Taylor />
      {SERIES_NAMES.map((n, k) => (
        <g key={n}>
          <rect x={306 + k * 118} y={957} width={84} height={7} fill={SERIES_COLORS[k]} />
          <text x={348 + k * 118} y={976} textAnchor="middle" fontFamily={TICK_FONT} fontSize={16}>{n}</text>
        </g>
      ))}
    </svg>
  );
}
